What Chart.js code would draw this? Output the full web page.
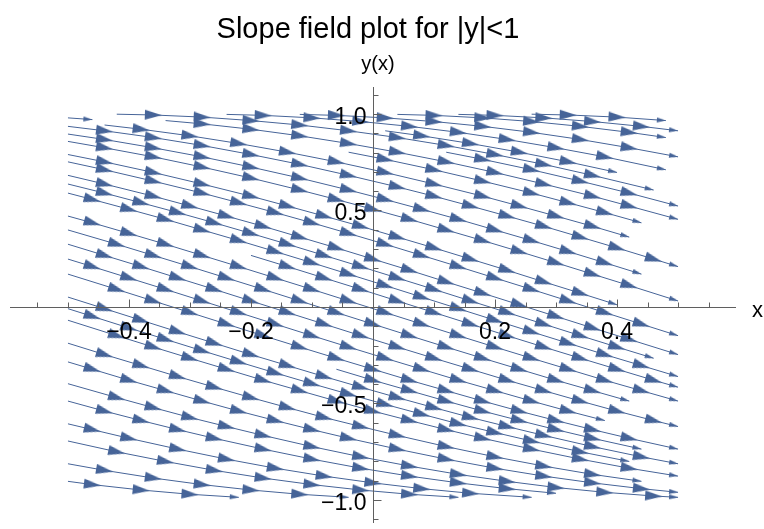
<!DOCTYPE html>
<html>
<head>
<meta charset="utf-8">
<script src="https://cdn.jsdelivr.net/npm/chart.js@4.4.1/dist/chart.umd.min.js"></script>
<style>
  html, body { margin: 0; padding: 0; background: #fff; }
</style>
</head>
<body>
<canvas id="slope-chart" width="764" height="529"></canvas>
<script>
// Streamlines. Each one is a list of [x, y] points:
// the first is where the line starts, the inner ones carry an arrowhead,
// the last one gets the small closing arrow.
const upperStreams = [
  [[-0.50,0.936],[-0.44,0.913],[-0.36,0.878],[-0.28,0.837],[-0.20,0.790],[-0.12,0.739],[-0.04,0.682],[0.04,0.622],[0.10,0.574],[0.16,0.523],[0.22,0.471],[0.28,0.418],[0.34,0.362],[0.40,0.306],[0.46,0.248],[0.50,0.209]],
  [[-0.50,0.896],[-0.44,0.868],[-0.36,0.825],[-0.28,0.778],[-0.20,0.725],[-0.12,0.668],[-0.04,0.606],[0.02,0.557],[0.08,0.506],[0.14,0.454],[0.20,0.399],[0.26,0.344],[0.32,0.287],[0.38,0.229],[0.44,0.170]],
  [[-0.50,0.858],[-0.44,0.825],[-0.36,0.778],[-0.28,0.725],[-0.20,0.668],[-0.12,0.606],[-0.06,0.557],[0.00,0.506],[0.06,0.454],[0.12,0.399],[0.18,0.344],[0.24,0.287],[0.30,0.229],[0.36,0.170],[0.42,0.111],[0.50,0.031]],
  [[-0.50,0.790],[-0.44,0.752],[-0.36,0.697],[-0.28,0.637],[-0.20,0.574],[-0.14,0.523],[-0.08,0.471],[-0.02,0.418],[0.04,0.362],[0.10,0.306],[0.16,0.248],[0.22,0.190],[0.28,0.130],[0.34,0.071],[0.40,0.011]],
  [[-0.50,0.752],[-0.44,0.711],[-0.36,0.652],[-0.28,0.590],[-0.22,0.540],[-0.16,0.489],[-0.10,0.436],[-0.04,0.381],[0.02,0.325],[0.08,0.267],[0.14,0.209],[0.20,0.150],[0.26,0.091],[0.32,0.031],[0.38,-0.029],[0.44,-0.089],[0.50,-0.149]],
  [[-0.50,0.682],[-0.44,0.637],[-0.36,0.574],[-0.30,0.523],[-0.24,0.471],[-0.18,0.418],[-0.12,0.362],[-0.06,0.306],[0.00,0.248],[0.06,0.190],[0.12,0.130],[0.18,0.071],[0.24,0.011],[0.30,-0.049],[0.36,-0.109],[0.42,-0.168],[0.50,-0.247]],
  [[-0.50,0.637],[-0.44,0.590],[-0.38,0.540],[-0.32,0.489],[-0.26,0.436],[-0.20,0.381],[-0.14,0.325],[-0.08,0.267],[-0.02,0.209],[0.04,0.150],[0.10,0.091],[0.16,0.031],[0.22,-0.029],[0.28,-0.089],[0.34,-0.149],[0.40,-0.208],[0.46,-0.266]],
  [[-0.50,0.590],[-0.46,0.557],[-0.40,0.506],[-0.34,0.454],[-0.28,0.399],[-0.22,0.344],[-0.16,0.287],[-0.10,0.229],[-0.04,0.170],[0.02,0.111],[0.08,0.051],[0.14,-0.009],[0.20,-0.069],[0.26,-0.129],[0.32,-0.188],[0.38,-0.247],[0.44,-0.304],[0.50,-0.361]]
];

const middleStreams = [
  [[-0.50,0.471],[-0.46,0.436],[-0.40,0.381],[-0.34,0.325],[-0.28,0.267],[-0.22,0.209],[-0.16,0.150],[-0.10,0.091],[-0.04,0.031],[0.02,-0.029],[0.08,-0.089],[0.14,-0.149],[0.20,-0.208],[0.26,-0.266],[0.32,-0.323],[0.38,-0.380],[0.44,-0.434],[0.50,-0.488]],
  [[-0.50,0.399],[-0.42,0.325],[-0.36,0.267],[-0.30,0.209],[-0.24,0.150],[-0.18,0.091],[-0.12,0.031],[-0.06,-0.029],[0.00,-0.089],[0.06,-0.149],[0.12,-0.208],[0.18,-0.266],[0.24,-0.323],[0.30,-0.380],[0.36,-0.434],[0.42,-0.488]],
  [[-0.50,0.325],[-0.44,0.267],[-0.38,0.209],[-0.32,0.150],[-0.26,0.091],[-0.20,0.031],[-0.14,-0.029],[-0.08,-0.089],[-0.02,-0.149],[0.04,-0.208],[0.10,-0.266],[0.16,-0.323],[0.22,-0.380],[0.28,-0.434],[0.34,-0.488],[0.40,-0.540],[0.46,-0.589],[0.50,-0.620]],
  [[-0.50,0.248],[-0.46,0.209],[-0.40,0.150],[-0.34,0.091],[-0.28,0.031],[-0.22,-0.029],[-0.16,-0.089],[-0.10,-0.149],[-0.04,-0.208],[0.02,-0.266],[0.08,-0.323],[0.14,-0.380],[0.20,-0.434],[0.26,-0.488],[0.32,-0.540],[0.38,-0.589]],
  [[-0.50,0.170],[-0.42,0.091],[-0.36,0.031],[-0.30,-0.029],[-0.24,-0.089],[-0.18,-0.149],[-0.12,-0.208],[-0.06,-0.266],[0.00,-0.323],[0.06,-0.380],[0.12,-0.434],[0.18,-0.488],[0.24,-0.540],[0.30,-0.589],[0.36,-0.636],[0.42,-0.681],[0.50,-0.737]],
  [[-0.50,0.051],[-0.44,-0.009],[-0.38,-0.069],[-0.32,-0.129],[-0.26,-0.188],[-0.20,-0.247],[-0.14,-0.304],[-0.08,-0.361],[-0.02,-0.416],[0.04,-0.470],[0.10,-0.522],[0.16,-0.573],[0.22,-0.620],[0.28,-0.666],[0.36,-0.724],[0.44,-0.777],[0.50,-0.813]],
  [[-0.50,-0.009],[-0.46,-0.049],[-0.40,-0.109],[-0.34,-0.168],[-0.28,-0.227],[-0.22,-0.285],[-0.16,-0.342],[-0.10,-0.398],[-0.04,-0.452],[0.02,-0.505],[0.08,-0.556],[0.14,-0.606],[0.20,-0.651],[0.26,-0.695],[0.34,-0.751],[0.42,-0.801]],
  [[-0.50,-0.069],[-0.42,-0.149],[-0.36,-0.208],[-0.30,-0.266],[-0.24,-0.323],[-0.18,-0.380],[-0.12,-0.434],[-0.06,-0.488],[0.00,-0.540],[0.06,-0.589],[0.12,-0.636],[0.18,-0.681],[0.26,-0.737],[0.34,-0.789],[0.42,-0.836],[0.50,-0.877]]
];

const lowerStreams = [
  [[-0.50,-0.188],[-0.44,-0.247],[-0.38,-0.304],[-0.32,-0.361],[-0.26,-0.416],[-0.20,-0.470],[-0.14,-0.522],[-0.08,-0.573],[-0.02,-0.620],[0.04,-0.666],[0.12,-0.724],[0.20,-0.777],[0.28,-0.825],[0.36,-0.868],[0.44,-0.904]],
  [[-0.50,-0.285],[-0.46,-0.323],[-0.40,-0.380],[-0.34,-0.434],[-0.28,-0.488],[-0.22,-0.540],[-0.16,-0.589],[-0.10,-0.636],[-0.04,-0.681],[0.04,-0.737],[0.12,-0.789],[0.20,-0.836],[0.28,-0.877],[0.36,-0.912],[0.44,-0.942],[0.50,-0.961]],
  [[-0.50,-0.398],[-0.42,-0.470],[-0.36,-0.522],[-0.30,-0.573],[-0.24,-0.620],[-0.18,-0.666],[-0.10,-0.724],[-0.02,-0.777],[0.06,-0.825],[0.14,-0.868],[0.22,-0.904],[0.30,-0.936],[0.38,-0.961],[0.46,-0.980],[0.50,-0.987]],
  [[-0.50,-0.488],[-0.44,-0.540],[-0.38,-0.589],[-0.32,-0.636],[-0.26,-0.681],[-0.18,-0.737],[-0.10,-0.789],[-0.02,-0.836],[0.06,-0.877],[0.14,-0.912],[0.22,-0.942],[0.30,-0.966]],
  [[-0.50,-0.606],[-0.46,-0.636],[-0.40,-0.681],[-0.32,-0.737],[-0.24,-0.789],[-0.16,-0.836],[-0.08,-0.877],[0.00,-0.912],[0.08,-0.942],[0.16,-0.966],[0.26,-0.987]],
  [[-0.50,-0.695],[-0.42,-0.751],[-0.34,-0.801],[-0.26,-0.847],[-0.18,-0.887],[-0.10,-0.921],[-0.02,-0.949],[0.06,-0.971],[0.14,-0.987]],
  [[-0.50,-0.813],[-0.44,-0.847],[-0.36,-0.887],[-0.28,-0.921],[-0.20,-0.949],[-0.12,-0.971],[-0.04,-0.987]],
  [[-0.50,-0.904],[-0.46,-0.921],[-0.38,-0.949],[-0.30,-0.971],[-0.22,-0.987]]
];

// lines that start inside the plot (mostly along the top edge)
const seededStreams = [
  [[-0.44,0.943],[-0.38,0.921],[-0.30,0.887],[-0.22,0.847],[-0.14,0.802],[-0.06,0.752],[0.02,0.697],[0.10,0.637],[0.18,0.574],[0.24,0.523],[0.30,0.471],[0.36,0.418],[0.42,0.362]],
  [[-0.50,0.980],[-0.46,0.971]],
  [[-0.04,0.802],[0.02,0.765],[0.10,0.711],[0.18,0.652],[0.26,0.590],[0.32,0.540],[0.38,0.489],[0.44,0.436]],
  [[-0.34,0.966],[-0.28,0.949],[-0.20,0.921],[-0.12,0.887],[-0.04,0.847],[0.04,0.802],[0.12,0.752],[0.20,0.697],[0.28,0.637],[0.36,0.574],[0.42,0.523],[0.50,0.454]],
  [[0.12,0.802],[0.18,0.765],[0.26,0.711],[0.34,0.652],[0.42,0.590],[0.50,0.523]],
  [[-0.42,0.999],[-0.36,0.995],[-0.28,0.984],[-0.20,0.966],[-0.12,0.943],[-0.04,0.913],[0.04,0.878],[0.12,0.837],[0.20,0.790],[0.28,0.739],[0.36,0.682],[0.46,0.606]],
  [[0.02,0.913],[0.08,0.887],[0.16,0.847],[0.24,0.802],[0.32,0.752],[0.40,0.697]],
  [[-0.24,0.998],[-0.18,0.993],[-0.10,0.980],[-0.02,0.961],[0.06,0.936],[0.14,0.905],[0.22,0.868],[0.30,0.825],[0.38,0.778],[0.48,0.711]],
  [[-0.12,0.998],[-0.06,0.993],[0.02,0.980],[0.10,0.961],[0.18,0.936],[0.26,0.905],[0.34,0.868],[0.42,0.825],[0.50,0.778]],
  [[0.04,0.998],[0.10,0.993],[0.18,0.980],[0.26,0.961],[0.34,0.936],[0.42,0.905],[0.48,0.878]],
  [[0.14,0.998],[0.20,0.993],[0.28,0.980],[0.36,0.961],[0.44,0.936],[0.50,0.913]],
  [[0.26,0.999],[0.32,0.995],[0.40,0.984],[0.48,0.966]],
  [[-0.20,0.267],[-0.14,0.209],[-0.08,0.150],[-0.02,0.091],[0.04,0.031],[0.10,-0.029],[0.16,-0.089],[0.22,-0.149],[0.28,-0.208],[0.34,-0.266],[0.40,-0.323],[0.46,-0.380],[0.50,-0.416]],
  [[-0.06,-0.323],[0.00,-0.380],[0.06,-0.434],[0.12,-0.488],[0.18,-0.540],[0.24,-0.589],[0.30,-0.636],[0.36,-0.681],[0.44,-0.737]]
];

const xTickValues = [-0.4, -0.2, 0.2, 0.4];
const yTickValues = [-1.0, -0.5, 0.5, 1.0];
const chartTitle = 'Slope field plot for |y|<1';
const xAxisLabel = 'x';
const yAxisLabel = 'y(x)';

const ARROW_COLOR = '#466498';
const AXIS_COLOR = '#5f5f5f';
const FONT = '"Liberation Sans", Arial, Helvetica, sans-serif';

// arrowhead sprites, pointing right; Chart.js draws image point styles centred and rotated
function makeHead(len, wid, tipAtCentre) {
    const c = document.createElement('canvas');
    c.width = tipAtCentre ? len * 2 : len;
    c.height = wid;
    const g = c.getContext('2d');
    g.fillStyle = ARROW_COLOR;
    g.beginPath();
    g.moveTo(0, 0);
    g.lineTo(len, wid / 2);
    g.lineTo(0, wid);
    g.closePath();
    g.fill();
    return c;
}
const bigHead = makeHead(17, 10, false);
const endHead = makeHead(9, 5, true);

function headAngle(ctx) {
    const pts = ctx.dataset.data;
    const i = ctx.dataIndex;
    const a = pts[Math.max(i - 1, 0)];
    const b = pts[Math.min(i + 1, pts.length - 1)];
    const sx = ctx.chart.scales.x, sy = ctx.chart.scales.y;
    const dx = sx.getPixelForValue(b[0]) - sx.getPixelForValue(a[0]);
    const dy = sy.getPixelForValue(b[1]) - sy.getPixelForValue(a[1]);
    return Math.atan2(dy, dx) * 180 / Math.PI;
}

function fmtTick(v) {
    return v.toFixed(1).replace('-', '\u2212');
}

// Mathematica-style axes through the origin, ticks pointing up / right
const mmaAxes = {
    id: 'mmaAxes',
    afterDatasetsDraw(chart) {
        const {ctx, chartArea, scales} = chart;
        const sx = scales.x, sy = scales.y;
        const ox = Math.round(sx.getPixelForValue(0)) + 0.5;
        const oy = Math.round(sy.getPixelForValue(0)) + 0.5;
        ctx.save();
        ctx.strokeStyle = AXIS_COLOR;
        ctx.lineWidth = 1;
        ctx.beginPath();
        ctx.moveTo(chartArea.left, oy);
        ctx.lineTo(chartArea.right, oy);
        ctx.moveTo(ox, chartArea.top);
        ctx.lineTo(ox, chartArea.bottom);
        for (let k = -11; k <= 11; k++) {
            if (k === 0) continue;
            const px = Math.round(sx.getPixelForValue(k * 0.05)) + 0.5;
            ctx.moveTo(px, oy);
            ctx.lineTo(px, oy - (k % 4 === 0 ? 8 : 5));
            const py = Math.round(sy.getPixelForValue(k * 0.1)) + 0.5;
            ctx.moveTo(ox, py);
            ctx.lineTo(ox + (k % 5 === 0 ? 8 : 5), py);
        }
        ctx.stroke();

        ctx.fillStyle = '#000';
        ctx.font = '23px ' + FONT;
        ctx.textBaseline = 'alphabetic';
        ctx.textAlign = 'center';
        xTickValues.forEach(v => ctx.fillText(fmtTick(v), sx.getPixelForValue(v), oy + 31));
        ctx.textAlign = 'right';
        yTickValues.forEach(v => ctx.fillText(fmtTick(v), ox - 7, sy.getPixelForValue(v) + 10));

        ctx.textAlign = 'left';
        ctx.font = '22px ' + FONT;
        ctx.fillText(xAxisLabel, 752, oy + 9);
        ctx.textAlign = 'center';
        ctx.font = '20px ' + FONT;
        ctx.fillText(yAxisLabel, 378, 70);
        ctx.font = '29px ' + FONT;
        ctx.fillText(chartTitle, 368, 38);
        ctx.restore();
    }
};

const allStreams = [...upperStreams, ...middleStreams, ...lowerStreams, ...seededStreams];

new Chart(document.getElementById('slope-chart'), {
    type: 'scatter',
    data: {
        datasets: allStreams.map(pts => ({
            data: pts,
            showLine: true,
            borderColor: ARROW_COLOR,
            borderWidth: 1,
            tension: 0,
            pointRadius: ctx => (ctx.dataIndex === 0 ? 0 : 5),
            pointStyle: ctx => (ctx.dataIndex === ctx.dataset.data.length - 1 ? endHead : bigHead),
            rotation: headAngle,
            clip: false
        }))
    },
    options: {
        responsive: false,
        animation: false,
        devicePixelRatio: 1,
        events: [],
        layout: { padding: { left: 10, right: 28, top: 87, bottom: 0 } },
        plugins: { legend: { display: false }, tooltip: { enabled: false }, title: { display: false } },
        scales: {
            x: { type: 'linear', display: false, min: -0.595, max: 0.595 },
            y: { type: 'linear', display: false, min: -1.12, max: 1.14 }
        }
    },
    plugins: [mmaAxes]
});
</script>
</body>
</html>
